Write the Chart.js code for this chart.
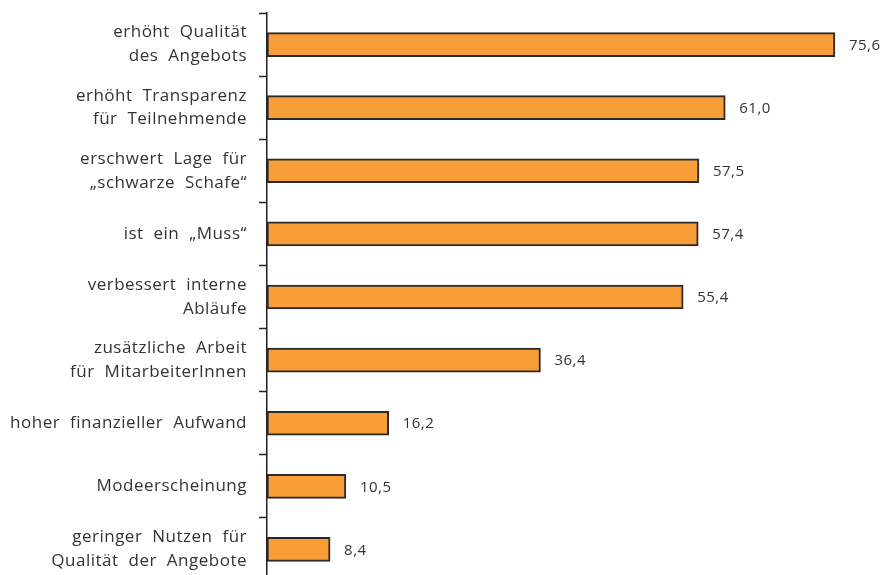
<!DOCTYPE html>
<html>
<head>
<meta charset="utf-8">
<script src="https://cdn.jsdelivr.net/npm/chart.js@4/dist/chart.umd.min.js"></script>
<style>
  html, body { margin: 0; padding: 0; background: #fff; overflow: hidden; }
  #wrap { width: 883px; height: 600px; position: relative; }
</style>
</head>
<body>
<div id="wrap"><canvas id="c"></canvas></div>
<script>
const categories = [
  ["erhöht Qualität", "des Angebots"],
  ["erhöht Transparenz", "für Teilnehmende"],
  ["erschwert Lage für", "„schwarze Schafe“"],
  "ist ein „Muss“",
  ["verbessert interne", "Abläufe"],
  ["zusätzliche Arbeit", "für MitarbeiterInnen"],
  "hoher finanzieller Aufwand",
  "Modeerscheinung",
  ["geringer Nutzen für", "Qualität der Angebote"]
];
const values = [75.6, 61.0, 57.5, 57.4, 55.4, 36.4, 16.2, 10.5, 8.4];

const FONT = "'Open Sans', 'DejaVu Sans', sans-serif";

const textSpacing = {
  id: 'textSpacing',
  beforeDraw(chart) {
    chart.ctx.letterSpacing = '0.5px';
    chart.ctx.wordSpacing = '5px';
  }
};

const valueLabels = {
  id: 'valueLabels',
  afterDatasetsDraw(chart) {
    const ctx = chart.ctx;
    const meta = chart.getDatasetMeta(0);
    ctx.save();
    ctx.font = '15px ' + FONT;
    ctx.fillStyle = '#333333';
    ctx.textAlign = 'left';
    ctx.textBaseline = 'middle';
    meta.data.forEach((bar, i) => {
      const txt = values[i].toFixed(1).replace('.', ',');
      ctx.fillText(txt, bar.x + 14, bar.y + 1);
    });
    ctx.restore();
  }
};

new Chart(document.getElementById('c'), {
  type: 'bar',
  data: {
    labels: categories,
    datasets: [{
      data: values,
      backgroundColor: '#F99D38',
      borderColor: '#2a2a2a',
      borderWidth: 2,
      borderSkipped: false,
      barThickness: 24
    }]
  },
  options: {
    indexAxis: 'y',
    responsive: true,
    maintainAspectRatio: false,
    animation: false,
    layout: { padding: { top: 13, bottom: 19, left: 0, right: 0 } },
    plugins: { legend: { display: false }, tooltip: { enabled: false } },
    scales: {
      x: { display: false, min: 0, max: 82 },
      y: {
        afterFit(scale) {
          scale.width = 267;
          scale.paddingTop = 0;
          scale.paddingBottom = 0;
        },
        grid: {
          display: true,
          drawOnChartArea: false,
          drawTicks: true,
          tickLength: 8,
          tickWidth: 1.5,
          color: '#222222',
          offset: true
        },
        border: { display: true, color: '#222222', width: 1.5 },
        ticks: {
          color: '#333333',
          padding: 12,
          font: { family: FONT, size: 17, lineHeight: 1.4 }
        }
      }
    }
  },
  plugins: [textSpacing, valueLabels]
});
</script>
</body>
</html>
